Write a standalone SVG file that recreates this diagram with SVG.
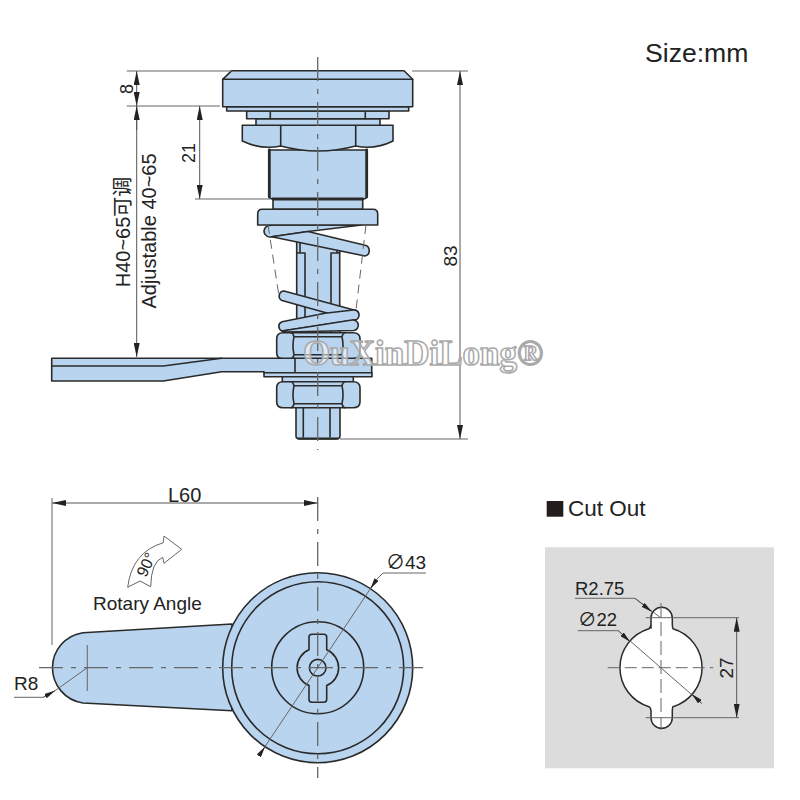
<svg xmlns="http://www.w3.org/2000/svg" width="800" height="800" viewBox="0 0 800 800">
<style>
text{font-family:"Liberation Sans",Arial,"Noto Sans CJK SC",sans-serif;fill:#222}
.p{fill:#b9d4ef;stroke:#2a2a2a;stroke-width:1.6;stroke-linejoin:round}
.n{fill:none;stroke:#2a2a2a;stroke-width:1.6;stroke-linecap:round}
.d{fill:none;stroke:#666;stroke-width:1}
.c{fill:none;stroke:#666;stroke-width:1.300;stroke-dasharray:24 8 5 8}
.t{fill:none;stroke:#666;stroke-width:1;stroke-dasharray:9 6}
.a{fill:none;stroke:#555;stroke-width:1;marker-start:url(#ar);marker-end:url(#ar)}
.b{fill:none;stroke:#555;stroke-width:1;marker-end:url(#ar)}
.e{fill:none;stroke:#555;stroke-width:1;marker-end:url(#as)}
.s{fill:#b9d4ef;stroke:#2a2a2a;stroke-width:1.600;stroke-linejoin:round}
</style>
<defs>
<marker id="ar" viewBox="0 0 14 6" refX="14" refY="3" markerWidth="14" markerHeight="6" markerUnits="userSpaceOnUse" orient="auto-start-reverse"><path d="M0 0L14 3L0 6Z" fill="#222"/></marker>
<marker id="as" viewBox="0 0 11 5" refX="11" refY="2.500" markerWidth="11" markerHeight="5" markerUnits="userSpaceOnUse" orient="auto"><path d="M0 0L11 2.500L0 5Z" fill="#222"/></marker>
<g id="nut"><path class="p" d="M283 0H353Q360 0 360 6V20Q360 26 353 26H283Q276.700 26 276.700 20V6Q276.700 0 283 0Z"/><path class="n" d="M291 0Q293 0 294 4Q292 13 294 22Q293 26 291 26M345 0Q343 0 342 4Q344 13 342 22Q343 26 345 26M294 4H342M294 22H342"/></g>
</defs>
<text x="645" y="62" font-size="26.600">Size:mm</text>

<g id="side-view">
<rect class="p" x="296.700" y="241" width="43" height="92"/>
<path class="n" d="M305 253V333M331 253V333M300 241V253M337 241V253M296.700 253H305M331 253H339.700"/>
<path class="p" d="M273 199H362.700V209.300H273Z"/>
<path class="p" d="M269.300 150H366.700V196Q366.700 199 363 199H273Q269.300 199 269.300 196Z"/>
<path class="n" d="M269.300 150V197M366.700 150V197M273 199H362.700" style="stroke-width:2.800"/>
<path class="p" d="M242.300 125.300H393V141Q375 150 355.700 146Q318 156 280.700 146Q261 150 242.300 141Z"/>
<path class="n" d="M280.700 125.300V146M355.700 125.300V146"/>
<rect class="p" x="256" y="118.700" width="124" height="6.600"/>
<rect class="p" x="246.700" y="111" width="142.300" height="7.700"/>
<path class="n" d="M270.300 111V118.700M365.300 111V118.700"/>
<rect class="p" x="226.700" y="106.700" width="182" height="4.300"/>
<path class="p" d="M231.700 70.700H404L412.700 79.300V106.700H222.700V79.300Z"/>
<path class="n" d="M222.700 79.300H412.700"/>
<path class="s" d="M272 225H361.700L308 231.500L271.700 236.700A5.800 5.800 0 0 1 268 225.700Z"/>
<path class="s" d="M271.700 236.700L308 231.500L365 245.300A5.500 5.500 0 0 1 365 256Z"/>
<path class="p" d="M262 209.300H373Q377.700 209.300 377.700 214V225H257.700V214Q257.700 209.300 262 209.300Z"/>
<path class="s" d="M284 291L354 310A5 5 0 0 1 352 320L282 300.500A5 5 0 0 1 284 291Z"/>
<path class="s" d="M325 313.300L353 310A5 5 0 0 1 355 320L282 331A5 5 0 0 1 282 321.700Z"/>
<path class="s" d="M352 320A5 5 0 0 1 354 330.500L286 332L282 331Z"/>
<path class="t" d="M268 225L279 296M366 225L356 310" />
<use href="#nut" y="332.700"/>
<path class="p" d="M51.700 358.300H371.700V372.700H264V371.700H221.700L163.300 381H51.700Z"/>
<path class="n" d="M51.700 366H163.300L221.700 358.300M295 358.300V372.700"/>
<rect class="p" x="264" y="372.700" width="108" height="4"/>
<rect class="p" x="282.300" y="376.700" width="71" height="5"/>
<use href="#nut" y="381.700"/>
<path class="p" d="M296 407.700H340V436Q340 439 336 439H300Q296 439 296 436Z"/>
<path class="n" d="M303.300 407.700V437M330 407.700V437"/>
<path class="n" d="M298 438.500H338" style="stroke-width:2"/>
<path class="c" d="M317.700 57V450"/>
</g>

<g id="side-dims">
<path class="d" d="M126.700 71H232M126.700 106H220M195 199H270M340 439H468M412 71H468"/>
<path class="a" d="M136.700 71V106"/>
<path class="b" d="M136.700 106V357"/>
<path class="b" d="M136.700 130V106"/>
<path class="a" d="M199.700 106V199"/>
<path class="a" d="M460 71V439"/>
<text transform="translate(133 89) rotate(-90)" font-size="18" text-anchor="middle">8</text>
<text transform="translate(195 153) rotate(-90)" font-size="18" text-anchor="middle">21</text>
<text transform="translate(130 232) rotate(-90)" font-size="20" text-anchor="middle">H40~65可调</text>
<text transform="translate(156 231) rotate(-90)" font-size="20" text-anchor="middle">Adjustable 40~65</text>
<text transform="translate(457 256) rotate(-90)" font-size="19" text-anchor="middle">83</text>
</g>

<text id="watermark" x="303" y="365" font-size="35" font-weight="bold" style="font-family:'Liberation Serif',serif;fill:#fff;fill-opacity:.55;stroke:#a9a9a9;stroke-width:1.500">OuXinDiLong®</text>

<g id="top-view">
<path class="p" d="M232 624L83 632.700A35.500 35.500 0 0 0 83 703L232 710.700Z"/>
<circle class="p" cx="317.700" cy="667.700" r="95"/>
<circle class="n" cx="317.700" cy="667.700" r="86"/>
<circle class="n" cx="317.700" cy="667.700" r="46"/>
<path class="n" d="M309 649.800V637Q309 634.300 312 634.300H323.700Q326.700 634.300 326.700 637V649.800A19.400 19.400 0 0 1 326.700 685.600V699.500Q326.700 702.300 323.700 702.300H312Q309 702.300 309 699.500V685.600A19.400 19.400 0 0 1 309 649.800Z"/>
<circle class="n" cx="317.700" cy="667.700" r="8.300"/>
<path class="c" d="M39 667.700H430"/>
<path class="c" d="M317.700 497V778"/>
<path class="d" d="M87.300 645V691" stroke-dasharray="none"/>
</g>

<g id="top-dims">
<path class="d" d="M52 498V645"/>
<path class="a" d="M52 503H317.700"/>
<path class="d" d="M87.300 667.700L55 690.700"/>
<path class="d" d="M14 697.300H43.300L55 690.700"/>
<path class="e" d="M43.300 697.300L55 690.700"/>
<path class="d" d="M376.700 579.300L258.700 756"/>
<path class="e" d="M376.700 579.300L370.400 588.700"/>
<path class="e" d="M258.700 756L265 746.700"/>
<path class="d" d="M376.700 579.300L383 573H426"/>
<text x="168" y="502" font-size="20">L60</text>
<text x="14" y="690" font-size="19">R8</text>
<text x="386" y="569" font-size="19">∅43</text>
<path d="M127.700 587.300Q132 552 163.300 542.700L164 536L181.700 549.300L164 563.300L162.700 557.300Q151 562 150.700 586.700L140 581Z" fill="#fff" stroke="#666"/>
<text transform="translate(146 578) rotate(-65)" font-size="16">90°</text>
<text x="93" y="610" font-size="19">Rotary Angle</text>
</g>

<g id="cut-out">
<rect x="546.700" y="501" width="16.600" height="15.700" fill="#221c1a"/>
<text x="568" y="516" font-size="22.500">Cut Out</text>
<rect x="545" y="547.300" width="229" height="221" fill="#dcdcdc"/>
<path d="M651 628.700V618A10.650 10.650 0 0 1 672.300 618V624Q672.300 627 673 628.700A40.700 40.700 0 0 1 673 706.700Q672.300 708 672.300 711V717.700A10.650 10.650 0 0 1 651 717.700V711Q651 708 649 706.700A40.700 40.700 0 0 1 649 628.700Q651 627 651 624Z" fill="#fff" stroke="#2a2a2a" stroke-width="1.500"/>
<path class="d" d="M607.700 667.700H713.300" stroke-dasharray="12 5"/>
<path class="d" d="M661 603V730" stroke-dasharray="14 5"/>
<path class="d" d="M645.700 617.700H739M645.700 717.700H739"/>
<path class="a" d="M736.700 617.700V717.700"/>
<path class="d" d="M575 598.300H635L661 618"/>
<path class="e" d="M635 598.300L651.700 611.700"/>
<path class="d" d="M577.700 630.700H618.300L701.700 703.300"/>
<path class="e" d="M618.300 630.700L630 641.700"/>
<path class="e" d="M701.700 703.300L691.700 694"/>
<text x="575" y="595" font-size="18.500">R2.75</text>
<text x="578" y="626" font-size="18.500">∅22</text>
<text transform="translate(733 668) rotate(-90)" font-size="19" text-anchor="middle">27</text>
</g>
</svg>
